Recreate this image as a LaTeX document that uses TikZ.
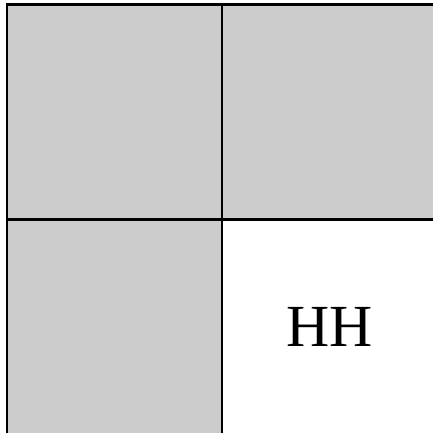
\documentclass[tikz,border=0pt]{standalone}
\usepackage{fontspec}
\setmainfont{Liberation Serif}
\definecolor{cellgrey}{RGB}{204,204,204}
\usetikzlibrary{positioning}
\tikzset{
  cell/.style={draw=black, line width=0.6pt, fill=cellgrey, minimum size=2.15cm, inner sep=0pt, outer sep=0pt},
  emptycell/.style={cell, fill=white, font=\fontsize{17}{20}\selectfont}
}

\begin{document}
\begin{tikzpicture}
  \useasboundingbox (0,0) rectangle (4.33,-4.32);
  \clip (0,0) rectangle (4.33,-4.32);
  \node[cell] (tl) at (1.145,-1.12) {};
  \node[cell, right=0cm of tl] (tr) {};
  \node[cell, below=0cm of tl] (bl) {};
  \node[emptycell, below=0cm of tr] (br) {HH};
\end{tikzpicture}
\end{document}
